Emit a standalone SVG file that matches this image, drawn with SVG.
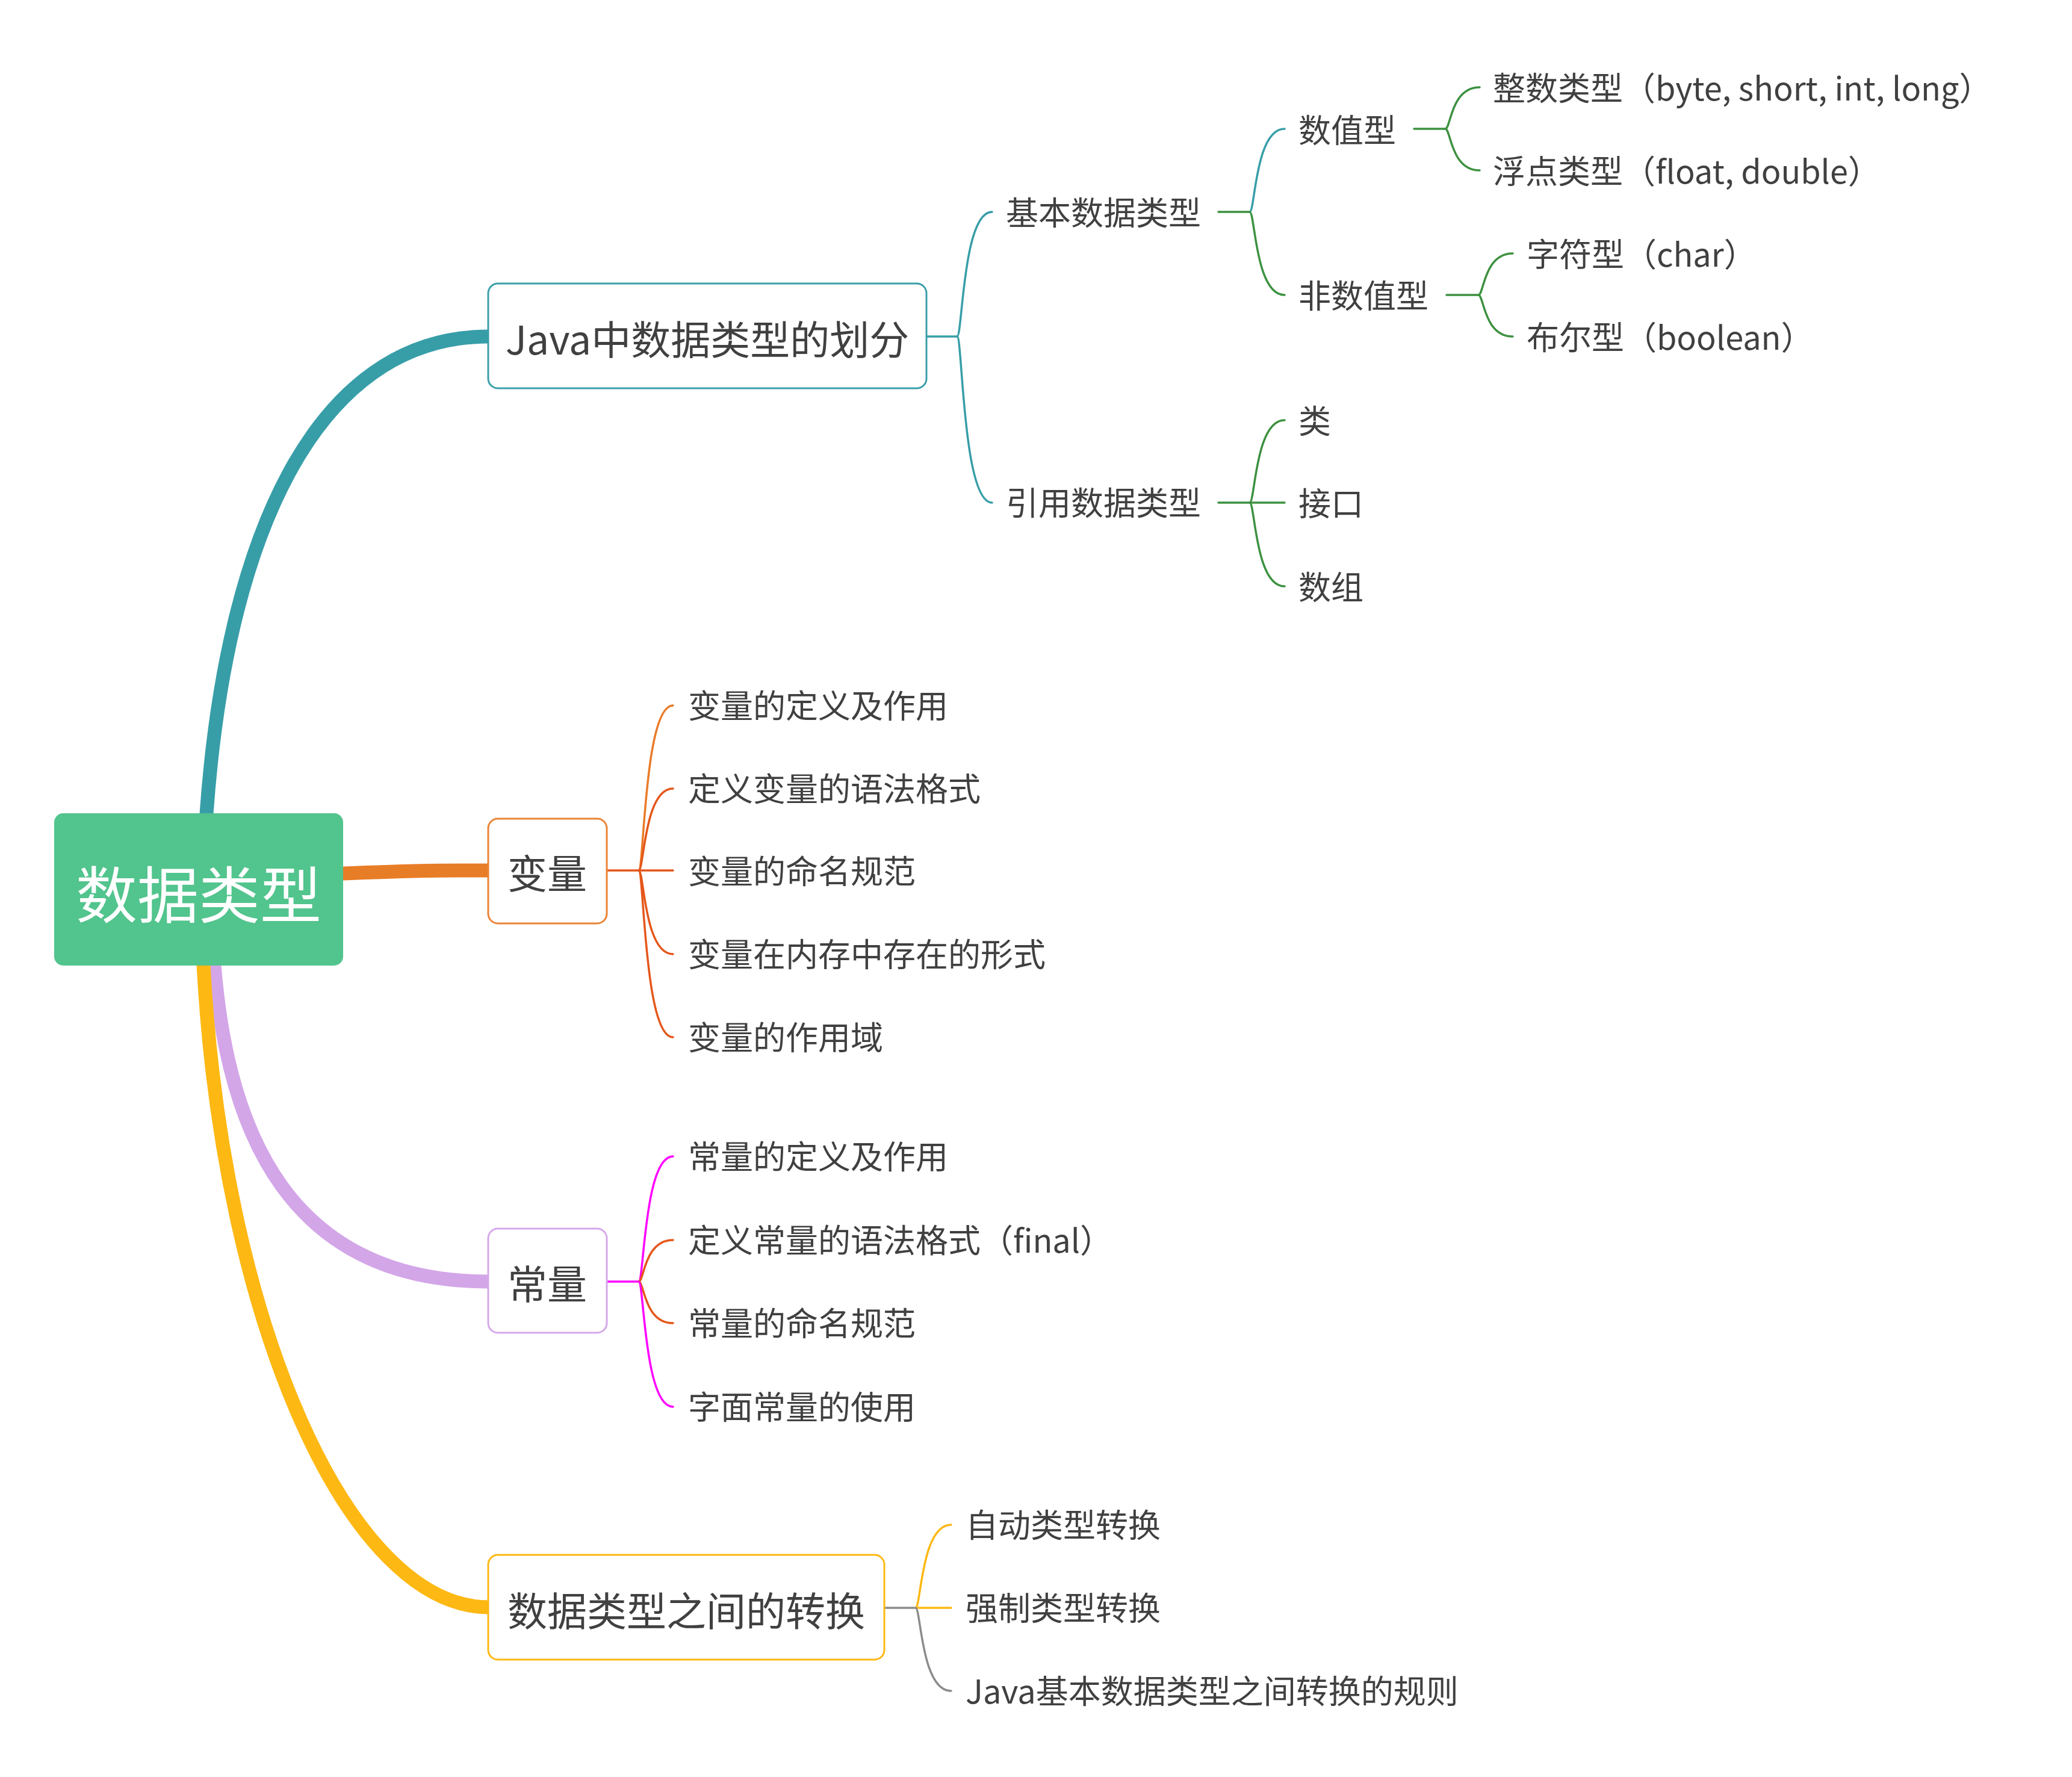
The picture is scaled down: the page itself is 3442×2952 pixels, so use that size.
<svg xmlns="http://www.w3.org/2000/svg" width="3442" height="2952" viewBox="0 0 3442 2952">
<style>
text{font-family:"Noto Sans CJK SC","Noto Sans",sans-serif;fill:#404040}
.leaf{font-size:54px}
.topic{font-size:66px;text-anchor:middle}
.box{fill:#fff;stroke-width:3}
.thin{fill:none;stroke-width:3.5;stroke-linecap:round}
.thick{fill:none;stroke-width:23;stroke-linecap:butt}
.teal{stroke:#379EA8}
.green{stroke:#3D9140}
.orng{stroke:#EA7A28}
.red{stroke:#E5561A}
.mag{stroke:#FF00FF}
.yel{stroke:#FDB813}
.gray{stroke:#8C8C8C}
</style>
<rect width="3442" height="2952" fill="#fff"/>
<g id="connectors">
<path class="thick teal" d="M343 1352 C375 900 520 559 812 559"/>
<path class="thick" stroke="#E87D27" d="M569 1451 C680 1447 700 1446 812 1446"/>
<path class="thick" stroke="#D3A6E8" d="M356 1603 C378 1880 480 2129 812 2129"/>
<path class="thick yel" d="M338 1603 C370 2200 580 2670 812 2670"/>

<path class="thin teal" d="M1539 559 H1590"/>
<path class="thin teal" d="M1590 559 C1599 559 1599 352 1648 352"/>
<path class="thin teal" d="M1590 559 C1599 559 1599 835 1648 835"/>

<path class="thin green" d="M2024 352 H2076"/>
<path class="thin teal" d="M2076 352 C2085 352 2085 214 2134 214"/>
<path class="thin green" d="M2076 352 C2085 352 2085 490 2134 490"/>

<path class="thin green" d="M2349 214 H2401"/>
<path class="thin green" d="M2401 214 C2410 214 2410 145 2458 145"/>
<path class="thin green" d="M2401 214 C2410 214 2410 283 2458 283"/>

<path class="thin green" d="M2403 490 H2456"/>
<path class="thin green" d="M2456 490 C2465 490 2465 421 2513 421"/>
<path class="thin green" d="M2456 490 C2465 490 2465 559 2513 559"/>

<path class="thin green" d="M2024 835 H2076"/>
<path class="thin green" d="M2076 835 C2085 835 2085 698 2134 698"/>
<path class="thin green" d="M2076 835 H2134"/>
<path class="thin green" d="M2076 835 C2085 835 2085 974 2134 974"/>

<path class="thin red" d="M1008 1446 H1061"/>
<path class="thin orng" d="M1061 1446 C1070 1446 1070 1172 1118 1172"/>
<path class="thin red" d="M1061 1446 C1070 1446 1070 1310 1118 1310"/>
<path class="thin red" d="M1061 1446 H1118"/>
<path class="thin red" d="M1061 1446 C1070 1446 1070 1585 1118 1585"/>
<path class="thin red" d="M1061 1446 C1070 1446 1070 1723 1118 1723"/>

<path class="thin mag" d="M1008 2129 H1061"/>
<path class="thin mag" d="M1061 2129 C1070 2129 1070 1921 1118 1921"/>
<path class="thin red" d="M1061 2129 C1070 2129 1070 2060 1118 2060"/>
<path class="thin red" d="M1061 2129 C1070 2129 1070 2198 1118 2198"/>
<path class="thin mag" d="M1061 2129 C1070 2129 1070 2337 1118 2337"/>

<path class="thin gray" d="M1469 2671 H1521"/>
<path class="thin yel" d="M1521 2671 C1530 2671 1530 2533 1580 2533"/>
<path class="thin yel" d="M1521 2671 H1580"/>
<path class="thin gray" d="M1521 2671 C1530 2671 1530 2809 1580 2809"/>
</g>

<g id="root">
<rect x="90" y="1351" width="480" height="253" rx="15" fill="#52C48D"/>
<text x="330" y="1525" font-size="102" text-anchor="middle" style="fill:#fff">数据类型</text>
</g>

<g id="node-java">
<rect class="box" x="811" y="471" width="728" height="174" rx="16" stroke="#3A9FA9"/>
<text class="topic" x="1175" y="589">Java中数据类型的划分</text>
</g>
<g id="node-bianliang">
<rect class="box" x="811" y="1360" width="197" height="174" rx="16" stroke="#EA8436"/>
<text class="topic" x="909" y="1476">变量</text>
</g>
<g id="node-changliang">
<rect class="box" x="811" y="2041" width="197" height="173" rx="16" stroke="#D6A8EA"/>
<text class="topic" x="909" y="2158">常量</text>
</g>
<g id="node-zhuanhuan">
<rect class="box" x="811" y="2583" width="658" height="174" rx="16" stroke="#FDB813"/>
<text class="topic" x="1140" y="2701">数据类型之间的转换</text>
</g>

<g id="node-jiben"><text class="leaf" x="1671" y="374">基本数据类型</text></g>
<g id="node-yinyong"><text class="leaf" x="1671" y="856">引用数据类型</text></g>
<g id="node-shuzhi"><text class="leaf" x="2157" y="237">数值型</text></g>
<g id="node-feishuzhi"><text class="leaf" x="2157" y="512">非数值型</text></g>
<g id="node-zhengshu"><text class="leaf" x="2480" y="167">整数类型（byte, short, int, long）</text></g>
<g id="node-fudian"><text class="leaf" x="2480" y="305">浮点类型（float, double）</text></g>
<g id="node-zifu"><text class="leaf" x="2536" y="443">字符型（char）</text></g>
<g id="node-buer"><text class="leaf" x="2536" y="581">布尔型（boolean）</text></g>
<g id="node-lei"><text class="leaf" x="2157" y="720">类</text></g>
<g id="node-jiekou"><text class="leaf" x="2157" y="857">接口</text></g>
<g id="node-shuzu"><text class="leaf" x="2157" y="996">数组</text></g>

<g id="node-bl1"><text class="leaf" x="1143" y="1193">变量的定义及作用</text></g>
<g id="node-bl2"><text class="leaf" x="1143" y="1331">定义变量的语法格式</text></g>
<g id="node-bl3"><text class="leaf" x="1143" y="1468">变量的命名规范</text></g>
<g id="node-bl4"><text class="leaf" x="1143" y="1606">变量在内存中存在的形式</text></g>
<g id="node-bl5"><text class="leaf" x="1143" y="1744">变量的作用域</text></g>

<g id="node-cl1"><text class="leaf" x="1143" y="1942">常量的定义及作用</text></g>
<g id="node-cl2"><text class="leaf" x="1143" y="2081">定义常量的语法格式（final）</text></g>
<g id="node-cl3"><text class="leaf" x="1143" y="2219">常量的命名规范</text></g>
<g id="node-cl4"><text class="leaf" x="1143" y="2358">字面常量的使用</text></g>

<g id="node-zh1"><text class="leaf" x="1604" y="2554">自动类型转换</text></g>
<g id="node-zh2"><text class="leaf" x="1604" y="2692">强制类型转换</text></g>
<g id="node-zh3"><text class="leaf" x="1604" y="2830">Java基本数据类型之间转换的规则</text></g>
</svg>
